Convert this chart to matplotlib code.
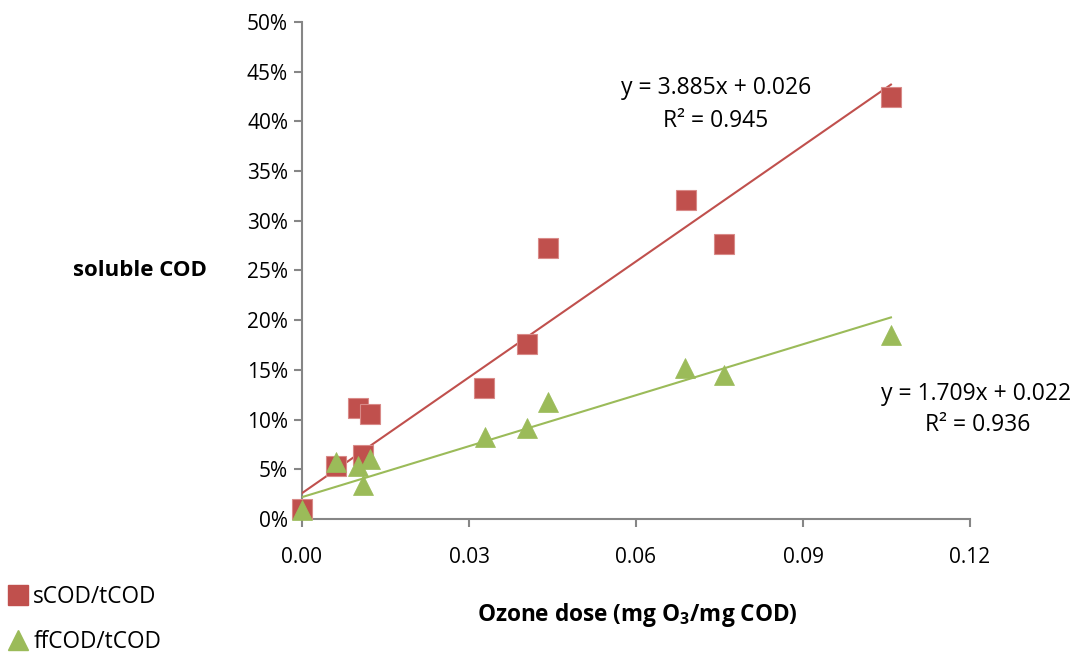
import matplotlib
matplotlib.use("Agg")
import matplotlib.pyplot as plt
from matplotlib.ticker import FuncFormatter, MultipleLocator
from matplotlib.lines import Line2D
import numpy as np

plt.rcParams['font.family'] = ['Open Sans', 'DejaVu Sans']
plt.rcParams['mathtext.fontset'] = 'custom'
plt.rcParams['mathtext.rm'] = 'Open Sans'
plt.rcParams['mathtext.bf'] = 'Open Sans:bold'

# Data
ozone_s = [0.0, 0.0061, 0.0101, 0.0122, 0.0110, 0.0327, 0.0404, 0.0442, 0.0690, 0.0758, 0.1058]
scod = [0.010, 0.053, 0.112, 0.106, 0.064, 0.132, 0.176, 0.273, 0.321, 0.277, 0.425]
ozone_f = [0.0, 0.0061, 0.0101, 0.0110, 0.0122, 0.0328, 0.0404, 0.0442, 0.0688, 0.0758, 0.1058]
ffcod = [0.009, 0.057, 0.053, 0.034, 0.060, 0.082, 0.092, 0.118, 0.152, 0.145, 0.185]
fit_s = (3.885, 0.026)
fit_f = (1.709, 0.022)
label_s = "sCOD/tCOD"
label_f = "ffCOD/tCOD"
eq_s = ["y = 3.885x + 0.026", "R² = 0.945"]
eq_f = ["y = 1.709x + 0.022", "R² = 0.936"]

red = '#C0504D'
green = '#9BBB59'
axc = '#868686'
fs = 15
fs2 = 16.5

fig = plt.figure(figsize=(10.76, 6.55), dpi=100)
ax = fig.add_axes([302/1076, 1-519/655, (970-302)/1076, (519-22)/655])

xs = np.array([0.0, max(ozone_s)])
ax.plot(xs, fit_s[0]*xs + fit_s[1], color=red, lw=1.5, zorder=2)
xf = np.array([0.0, max(ozone_f)])
ax.plot(xf, fit_f[0]*xf + fit_f[1], color=green, lw=1.5, zorder=2)

ax.plot(ozone_s, scod, ls='none', marker='s', ms=14, mfc=red, mec='#d98a88', mew=0.8,
        zorder=3, clip_on=False)
ax.plot(ozone_f, ffcod, ls='none', marker='^', ms=15, mfc=green, mec=green, mew=0.5,
        zorder=4, clip_on=False)

ax.set_xlim(0, 0.12)
ax.set_ylim(0, 0.5)
ax.xaxis.set_major_locator(MultipleLocator(0.03))
ax.yaxis.set_major_locator(MultipleLocator(0.05))
ax.xaxis.set_major_formatter(FuncFormatter(lambda v, p: f"{v:.2f}"))
ax.yaxis.set_major_formatter(FuncFormatter(lambda v, p: f"{v*100:.0f}%"))
for s in ['top', 'right']:
    ax.spines[s].set_visible(False)
for s in ['left', 'bottom']:
    ax.spines[s].set_color(axc)
    ax.spines[s].set_linewidth(1.5)
    ax.spines[s].set_zorder(1)
ax.tick_params(axis='both', direction='out', length=6, width=1.5, color=axc,
               labelsize=fs, labelcolor='black')
ax.tick_params(axis='x', pad=14)
ax.tick_params(axis='y', pad=4)

# equations
fig.text(716/1076, 1-88/655, eq_s[0], ha='center', va='center', fontsize=fs2)
fig.text(716/1076, 1-121/655, eq_s[1], ha='center', va='center', fontsize=fs2)
fig.text(976/1076, 1-394/655, eq_f[0], ha='center', va='center', fontsize=fs2)
fig.text(978/1076, 1-425/655, eq_f[1], ha='center', va='center', fontsize=fs2)

# axis titles
fig.text(207/1076, 1-270/655, "soluble COD", ha='right', va='center', fontsize=16, fontweight='bold')
fig.text(637/1076, 1-615/655, r"Ozone dose (mg O$_\mathbf{3}$/mg COD)", ha='center', va='center',
         fontsize=16.3, fontweight='bold')

# legend
handles = [Line2D([], [], ls='none', marker='s', ms=14, mfc=red, mec=red),
           Line2D([], [], ls='none', marker='^', ms=14, mfc=green, mec=green)]
leg = fig.legend(handles, [label_s, label_f], loc='upper left', bbox_to_anchor=(6/1076, 1-580/655),
                 frameon=False, fontsize=16.3, handlelength=0.7, handletextpad=0.3,
                 labelspacing=0.95, borderaxespad=0, borderpad=0.2)

fig.savefig("out.png", dpi=100)
